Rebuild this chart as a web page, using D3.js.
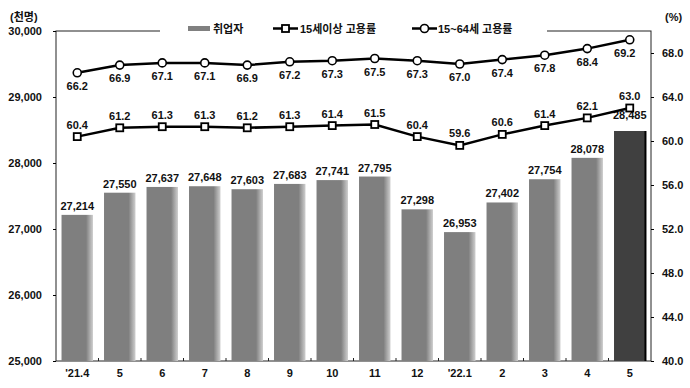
<!DOCTYPE html>
<html>
<head>
<meta charset="utf-8">
<script src="https://cdn.jsdelivr.net/npm/d3@7"></script>
<style>
  body { margin: 0; background: #fff; }
  text { font-family: "Liberation Sans", "Noto Sans CJK KR", sans-serif; font-weight: bold; fill: #111; }
</style>
</head>
<body>
<script>
// chart values
var months = ["'21.4", "5", "6", "7", "8", "9", "10", "11", "12", "'22.1", "2", "3", "4", "5"];
var employed = [27214, 27550, 27637, 27648, 27603, 27683, 27741, 27795, 27298, 26953, 27402, 27754, 28078, 28485];
var rate15 = [60.4, 61.2, 61.3, 61.3, 61.2, 61.3, 61.4, 61.5, 60.4, 59.6, 60.6, 61.4, 62.1, 63.0];
var rate1564 = [66.2, 66.9, 67.1, 67.1, 66.9, 67.2, 67.3, 67.5, 67.3, 67.0, 67.4, 67.8, 68.4, 69.2];
var leftTicks = [25000, 26000, 27000, 28000, 29000, 30000];
var rightTicks = [40, 44, 48, 52, 56, 60, 64, 68];

var svgWidth = 690, svgHeight = 388;
var margin = { top: 31, right: 39, bottom: 27, left: 56 };
var chartWidth = svgWidth - margin.left - margin.right;
var chartHeight = svgHeight - margin.top - margin.bottom;

var svg = d3.select("body").append("svg")
  .attr("width", svgWidth)
  .attr("height", svgHeight);

// bar shading
var defs = svg.append("defs");
var grad = defs.append("linearGradient").attr("id", "barGrad");
grad.append("stop").attr("offset", "0%").attr("stop-color", "#7f7f7f");
grad.append("stop").attr("offset", "78%").attr("stop-color", "#7f7f7f");
grad.append("stop").attr("offset", "100%").attr("stop-color", "#cfcfcf");

var g = svg.append("g").attr("transform", `translate(${margin.left},${margin.top})`);

var x = d3.scaleBand().domain(d3.range(months.length)).range([0, chartWidth]).paddingInner(0.26).paddingOuter(0.13);
var xc = i => x(i) + x.bandwidth() / 2;
var yL = d3.scaleLinear().domain([25000, 30000]).range([chartHeight, 0]);
var yR = d3.scaleLinear().domain([40, 70]).range([chartHeight, 0]);
var band = chartWidth / months.length;

// frame
g.append("rect").attr("width", chartWidth).attr("height", chartHeight)
  .attr("fill", "none").attr("stroke", "#222").attr("stroke-width", 1);

// axes
var leftAxis = d3.axisLeft(yL).tickValues(leftTicks).tickSize(3).tickFormat(d3.format(","));
var rightAxis = d3.axisRight(yR).tickValues(rightTicks).tickSize(3).tickFormat(d3.format(".1f"));
var gl = g.append("g").call(leftAxis);
gl.select(".domain").remove();
gl.selectAll("text").attr("x", -14).attr("font-size", 11);
var gr = g.append("g").attr("transform", `translate(${chartWidth},0)`).call(rightAxis);
gr.select(".domain").remove();
gr.selectAll("text").attr("x", 11).attr("font-size", 11);

// x tick marks at band boundaries
g.selectAll(".xt").data(d3.range(1, months.length)).enter().append("line")
  .attr("x1", d => d * band).attr("x2", d => d * band)
  .attr("y1", chartHeight).attr("y2", chartHeight - 3)
  .attr("stroke", "#222");
g.selectAll(".xl").data(months).enter().append("text")
  .attr("x", (d, i) => xc(i)).attr("y", chartHeight + 16)
  .attr("text-anchor", "middle").attr("font-size", 11)
  .text(d => d);

// bars
g.selectAll(".bar").data(employed).enter().append("rect")
  .attr("x", (d, i) => x(i))
  .attr("y", d => yL(d))
  .attr("width", x.bandwidth())
  .attr("height", d => chartHeight - yL(d))
  .attr("fill", (d, i) => i === employed.length - 1 ? "#404040" : "url(#barGrad)");
var last = employed.length - 1;
g.append("line")
  .attr("x1", x(last) + x.bandwidth()).attr("x2", x(last) + x.bandwidth())
  .attr("y1", yL(employed[last])).attr("y2", chartHeight)
  .attr("stroke", "#000").attr("stroke-width", 2);

g.selectAll(".barlab").data(employed).enter().append("text")
  .attr("x", (d, i) => xc(i))
  .attr("y", (d, i) => yL(d) - (i === last ? 12 : 5))
  .attr("text-anchor", "middle").attr("font-size", 11)
  .text(d => d3.format(",")(d));

// lines
var line = d3.line().x((d, i) => xc(i)).y(d => yR(d));
g.append("path").datum(rate1564).attr("d", line)
  .attr("fill", "none").attr("stroke", "#000").attr("stroke-width", 2.5);
g.append("path").datum(rate15).attr("d", line)
  .attr("fill", "none").attr("stroke", "#000").attr("stroke-width", 2.5);

g.selectAll(".circ").data(rate1564).enter().append("circle")
  .attr("cx", (d, i) => xc(i)).attr("cy", d => yR(d)).attr("r", 4)
  .attr("fill", "#fff").attr("stroke", "#000").attr("stroke-width", 1.6);
g.selectAll(".sq").data(rate15).enter().append("rect")
  .attr("x", (d, i) => xc(i) - 3.5).attr("y", d => yR(d) - 3.5)
  .attr("width", 7).attr("height", 7)
  .attr("fill", "#fff").attr("stroke", "#000").attr("stroke-width", 1.8);

g.selectAll(".lab1564").data(rate1564).enter().append("text")
  .attr("x", (d, i) => xc(i) - (i === last ? 5 : 0))
  .attr("y", d => yR(d) + 17)
  .attr("text-anchor", "middle").attr("font-size", 11)
  .text(d => d.toFixed(1));
g.selectAll(".lab15").data(rate15).enter().append("text")
  .attr("x", (d, i) => xc(i))
  .attr("y", d => yR(d) - 8)
  .attr("text-anchor", "middle").attr("font-size", 11)
  .text(d => d.toFixed(1));

// unit labels
svg.append("text").attr("x", 10).attr("y", 21).attr("font-size", 11).text("(천명)");
svg.append("text").attr("x", 665).attr("y", 21).attr("font-size", 11).text("(%)");

// legend
var lg = svg.append("g");
lg.append("rect").attr("x", 160).attr("y", 22).attr("width", 387).attr("height", 16).attr("fill", "#fff");
lg.append("rect").attr("x", 188).attr("y", 26).attr("width", 22).attr("height", 5).attr("fill", "#808080");
lg.append("text").attr("x", 213).attr("y", 33).attr("font-size", 11).text("취업자");
lg.append("line").attr("x1", 273).attr("x2", 298).attr("y1", 28.5).attr("y2", 28.5).attr("stroke", "#000").attr("stroke-width", 2.5);
lg.append("rect").attr("x", 282).attr("y", 25).attr("width", 7).attr("height", 7).attr("fill", "#fff").attr("stroke", "#000").attr("stroke-width", 1.8);
lg.append("text").attr("x", 300).attr("y", 33).attr("font-size", 11).text("15세이상 고용률");
lg.append("line").attr("x1", 412).attr("x2", 437).attr("y1", 28.5).attr("y2", 28.5).attr("stroke", "#000").attr("stroke-width", 2.5);
lg.append("circle").attr("cx", 424.5).attr("cy", 28.5).attr("r", 4).attr("fill", "#fff").attr("stroke", "#000").attr("stroke-width", 1.6);
lg.append("text").attr("x", 438).attr("y", 33).attr("font-size", 11).text("15~64세 고용률");
</script>
</body>
</html>
